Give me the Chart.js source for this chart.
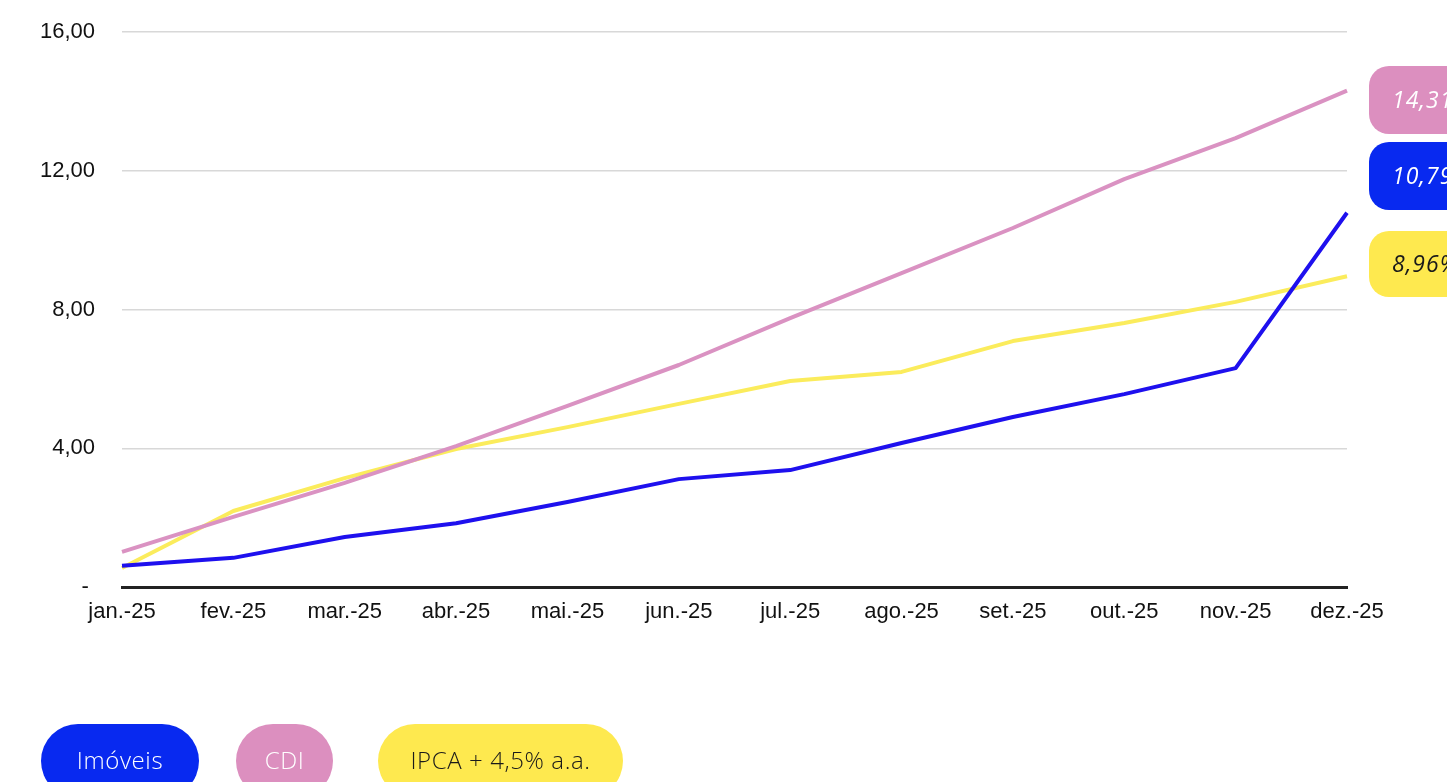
<!DOCTYPE html>
<html lang="pt-BR">
<head>
<meta charset="utf-8">
<title>Imóveis x CDI x IPCA</title>
<script src="https://cdn.jsdelivr.net/npm/chart.js@4"></script>
<style>
	html, body { margin: 0; padding: 0; background: #fff; }
	#wrap { position: relative; width: 1447px; height: 782px; overflow: hidden; }
</style>
</head>
<body>
<div id="wrap"><canvas id="chart"></canvas></div>
<script>
// months on the x axis
const months = ['jan.-25', 'fev.-25', 'mar.-25', 'abr.-25', 'mai.-25', 'jun.-25', 'jul.-25', 'ago.-25', 'set.-25', 'out.-25', 'nov.-25', 'dez.-25'];

// accumulated return (%) per month
const imoveis = [0.61, 0.84, 1.44, 1.84, 2.45, 3.11, 3.37, 4.15, 4.90, 5.56, 6.31, 10.79];
const cdi = [1.01, 2.02, 3.00, 4.06, 5.22, 6.40, 7.75, 9.05, 10.35, 11.76, 12.94, 14.31];
const ipca = [0.55, 2.19, 3.14, 3.98, 4.61, 5.28, 5.94, 6.20, 7.09, 7.61, 8.22, 8.96];

const seriesNames = ['Imóveis', 'CDI', 'IPCA + 4,5% a.a.'];
const yTicks = [0, 4, 8, 12, 16];

const BLUE_LINE = '#1e10ee', BLUE_PILL = '#0829f0';
const PINK_LINE = '#da92c2', PINK_PILL = '#dc8fbf';
const YELLOW_LINE = '#fbec5c', YELLOW_PILL = '#fee94f';

let fmt = (v) => v.toFixed(2).replace('.', ',');

let roundRect = (ctx, x, y, w, h, r) => {
	ctx.beginPath();
	ctx.roundRect(x, y, w, h, r);
	ctx.fill();
};

// value badges at the right edge (end of each series)
let endBadges = {
	id: 'endBadges',
	afterDraw (chart) {
		let { ctx } = chart;
		let items = [
			{ ds: 1, top: 66, h: 68, bg: PINK_PILL, color: '#fff' },
			{ ds: 0, top: 142, h: 68, bg: BLUE_PILL, color: '#fff' },
			{ ds: 2, top: 231, h: 66, bg: YELLOW_PILL, color: '#1a1a1a' },
		];
		ctx.save();
		items.forEach(it => {
			let data = chart.data.datasets[it.ds].data;
			let last = data[data.length - 1];
			ctx.fillStyle = it.bg;
			roundRect(ctx, 1369, it.top, 140, it.h, 20);
			ctx.fillStyle = it.color;
			ctx.font = 'italic 400 23px "Open Sans"';
			ctx.letterSpacing = '1px';
			ctx.textAlign = 'left';
			ctx.textBaseline = 'middle';
			ctx.fillText(fmt(last) + '%', 1392, it.top + it.h / 2 + 1);
		});
		ctx.restore();
	},
};

// pill legend under the chart
let pillLegend = {
	id: 'pillLegend',
	afterDraw (chart) {
		let { ctx } = chart;
		let pills = [
			{ x: 41, w: 158, bg: BLUE_PILL, color: '#fff' },
			{ x: 236, w: 97, bg: PINK_PILL, color: '#fff' },
			{ x: 378, w: 245, bg: YELLOW_PILL, color: '#1a1a1a' },
		];
		ctx.save();
		pills.forEach((p, i) => {
			ctx.fillStyle = p.bg;
			roundRect(ctx, p.x, 724, p.w, 74, 37);
			ctx.fillStyle = p.color;
			ctx.font = '300 24px "Open Sans"';
			ctx.letterSpacing = '0.6px';
			ctx.textAlign = 'center';
			ctx.textBaseline = 'middle';
			ctx.fillText(seriesNames[i], p.x + p.w / 2, 762);
		});
		ctx.restore();
	},
};

let config = {
	type: 'line',
	data: {
		labels: months,
		datasets: [
			{ label: seriesNames[0], data: imoveis, borderColor: BLUE_LINE, borderWidth: 4 },
			{ label: seriesNames[1], data: cdi, borderColor: PINK_LINE, borderWidth: 4 },
			{ label: seriesNames[2], data: ipca, borderColor: YELLOW_LINE, borderWidth: 4 },
		],
	},
	options: {
		responsive: true,
		maintainAspectRatio: false,
		animation: false,
		layout: { padding: { left: 0, right: 100, top: 32, bottom: 0 } },
		elements: {
			point: { radius: 0, hoverRadius: 0 },
			line: { tension: 0, borderCapStyle: 'butt', borderJoinStyle: 'round' },
		},
		plugins: {
			legend: { display: false },
			tooltip: { enabled: false },
		},
		scales: {
			x: {
				grid: { display: false },
				border: { display: true, color: '#222', width: 3 },
				ticks: {
					color: '#111',
					padding: 4,
					maxRotation: 0,
					autoSkip: false,
					font: { family: '"Liberation Sans", Arial, sans-serif', size: 22 },
				},
				afterFit (scale) { scale.height = 195; },
			},
			y: {
				min: 0,
				max: 16,
				afterBuildTicks (scale) { scale.ticks = yTicks.map(v => ({ value: v })); },
				grid: { color: '#d8d8d8', lineWidth: 1.5, drawTicks: false },
				border: { display: false },
				ticks: {
					color: '#111',
					padding: 27,
					font: { family: '"Liberation Sans", Arial, sans-serif', size: 22 },
					callback: (v) => v === 0 ? '- ' : fmt(v),
				},
				// fixed width; label padding shouldn't push the plot area down
				afterFit (scale) {
					scale.width = 122;
					scale.paddingTop = 0;
					scale.paddingBottom = 0;
				},
			},
		},
	},
	plugins: [ endBadges, pillLegend ],
};

new Chart(document.getElementById('chart'), config);
</script>
</body>
</html>
